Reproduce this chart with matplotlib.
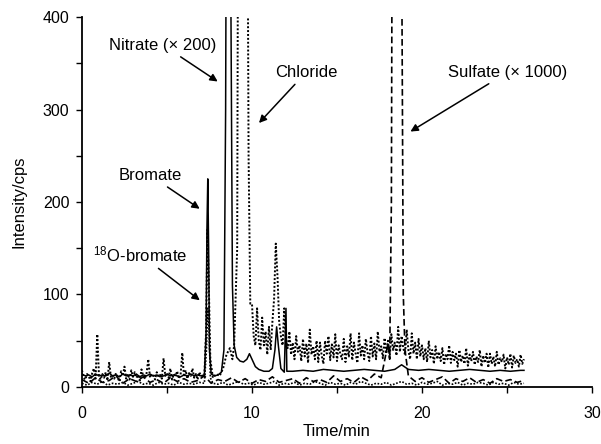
import numpy as np
import matplotlib
matplotlib.use("Agg")
import matplotlib.pyplot as plt

plt.rcParams['font.family'] = ['Liberation Sans', 'DejaVu Sans']
plt.rcParams['mathtext.fontset'] = 'custom'
plt.rcParams['mathtext.rm'] = 'Liberation Sans'

# ---------------- data ----------------
# Solid trace: bromate / nitrate
solid_t1 = np.round(np.arange(0.0, 7.01, 0.2), 2)
solid_v1 = [14, 12, 13, 11, 14, 12, 13, 12, 15, 12, 13, 11, 14, 12, 13, 12, 14, 11,
            13, 12, 14, 12, 13, 11, 12, 14, 12, 13, 12, 11, 13, 12, 14, 12, 13, 12]
solid_t2 = [7.2, 7.3, 7.35, 7.4, 7.45, 7.5, 7.6, 7.8, 8.0, 8.2, 8.35, 8.45, 8.55, 8.65,
            8.75, 8.85, 8.95, 9.1, 9.3, 9.5, 9.7, 9.85, 10.0, 10.2, 10.4, 10.7, 11.0,
            11.2, 11.35, 11.45, 11.55, 11.7, 11.9, 12.0, 12.05]
solid_v2 = [13, 60, 170, 225, 150, 40, 14, 12, 13, 16, 40, 300, 900, 900,
            450, 110, 45, 32, 28, 27, 30, 36, 30, 22, 19, 17, 17,
            20, 40, 65, 45, 20, 16, 85, 17]
solid_t3 = [12.4, 13.0, 13.6, 14.2, 14.8, 15.4, 16.0, 16.6, 17.2, 17.8, 18.4, 18.8,
            19.2, 19.8, 20.4, 21.0, 21.6, 22.2, 22.8, 23.4, 24.0, 24.6, 25.2, 25.8, 26.0]
solid_v3 = [17, 18, 17, 19, 18, 17, 18, 19, 18, 17, 19, 24,
            19, 18, 19, 18, 17, 18, 19, 18, 17, 18, 17, 18, 18]

# Dotted trace: chloride
dot_t1 = np.round(np.arange(0.0, 7.01, 0.1), 2)
dot_v1 = [18, 10, 8, 14, 12, 6, 15, 20, 9, 57,
          12, 8, 14, 10, 16, 7, 27, 11, 13, 9,
          15, 10, 6, 17, 12, 22, 9, 14, 8, 18,
          11, 16, 10, 13, 7, 19, 12, 9, 15, 30,
          10, 14, 12, 8, 16, 11, 13, 9, 31, 12,
          15, 10, 20, 8, 14, 12, 17, 9, 13, 37,
          11, 18, 9, 15, 12, 20, 10, 14, 8, 16,
          12]
dot_t2 = [7.2, 7.3, 7.38, 7.45, 7.55, 7.7, 7.9, 8.1, 8.3, 8.5, 8.7, 8.85, 8.95,
          9.13, 9.23, 9.45, 9.7, 9.8, 9.9]
dot_v2 = [12, 60, 170, 120, 30, 10, 14, 12, 20, 35, 42, 30, 45,
          150, 900, 900, 700, 250, 90]
dot_t3 = np.round(np.arange(10.0, 26.01, 0.1), 2)
dot_v3 = [90, 55, 45, 85, 50, 40, 75, 45, 60, 35,
          65, 40, 70, 95, 155, 120, 70, 55, 45, 85,
          50, 42, 60, 35, 48, 30, 55, 38, 45, 28,
          52, 33, 47, 26, 62, 35, 44, 30, 50, 27,
          48, 34, 25, 50, 36, 55, 29, 46, 32, 57,
          28, 45, 35, 30, 52, 27, 44, 33, 58, 29,
          48, 36, 26, 58, 34, 45, 30, 52, 37, 28,
          55, 33, 47, 30, 60, 38, 44, 31, 53, 36,
          50, 32, 57, 40, 48, 34, 65, 38, 55, 42,
          35, 62, 40, 30, 58, 36, 48, 30, 52, 33,
          45, 30, 42, 27, 50, 32, 40, 25, 44, 30,
          38, 28, 42, 24, 36, 30, 45, 26, 38, 29,
          36, 22, 40, 27, 34, 25, 42, 23, 35, 28,
          38, 24, 33, 27, 40, 22, 34, 26, 36, 21,
          36, 25, 33, 22, 38, 24, 31, 27, 35, 20,
          32, 24, 36, 21, 34, 26, 30, 22, 35, 25,
          30]

# Dashed trace: sulfate
dash_t1 = np.round(np.arange(0.0, 18.01, 0.4), 2)
dash_v1 = [8, 4, 10, 5, 7, 12, 4, 9, 6, 11, 5, 8, 4, 10, 6, 9, 5, 7, 12, 4,
           8, 6, 10, 5, 9, 4, 8, 6, 11, 5, 7, 9, 4, 10, 6, 8, 5, 12, 6, 9,
           5, 11, 7, 14, 10, 47]
dash_t2 = [18.1, 18.2, 18.3, 18.7, 18.8, 18.9, 19.0]
dash_v2 = [30, 200, 900, 900, 500, 100, 40]
dash_t3 = np.round(np.arange(19.2, 26.01, 0.4), 2)
dash_v3 = [12, 6, 10, 5, 8, 11, 4, 9, 6, 10, 5, 8, 4, 9, 6, 8, 5, 7]

# Fine dotted trace: 18O-bromate
o18_t1 = np.round(np.arange(0.0, 7.21, 0.3), 2)
o18_v1 = [4, 2, 5, 3, 6, 2, 4, 3, 5, 2, 4, 6, 3, 4, 2, 5, 3, 4, 2, 5, 3, 4, 3, 5, 4]
o18_t2 = [7.32, 7.4, 7.48, 7.55, 7.7]
o18_v2 = [40, 85, 60, 10, 4]
o18_t3 = np.round(np.arange(8.0, 26.01, 0.3), 2)
o18_v3 = [3, 5, 2, 4, 6, 3, 4, 2, 5, 3, 4, 6, 2, 4, 3, 5, 2, 4, 3, 6, 4, 2, 5, 3,
          4, 2, 5, 3, 6, 4, 2, 4, 3, 5, 2, 4, 6, 3, 4, 2, 5, 3, 4, 6, 2, 4, 3, 5,
          2, 4, 3, 5, 4, 2, 5, 3, 4, 2, 5, 3, 4]

x_ticks = [0, 10, 20, 30]
y_ticks = [0, 100, 200, 300, 400]

# ---------------- figure ----------------
fig = plt.figure(figsize=(6.01, 4.44), dpi=100)
ax = fig.add_axes([0.1364, 0.1284, 0.8486, 0.8333])

def cat(*parts):
    return np.concatenate([np.asarray(p, dtype=float) for p in parts])

ax.plot(cat(o18_t1, o18_t2, o18_t3), cat(o18_v1, o18_v2, o18_v3),
        color='black', lw=1.2, ls=(0, (1, 1)))
ax.plot(cat(dash_t1, dash_t2, dash_t3), cat(dash_v1, dash_v2, dash_v3),
        color='black', lw=1.2, ls=(0, (4, 2)))
ax.plot(cat(dot_t1, dot_t2, dot_t3), cat(dot_v1, dot_v2, dot_v3),
        color='black', lw=1.4, ls=(0, (1, 1)))
ax.plot(cat(solid_t1, solid_t2, solid_t3), cat(solid_v1, solid_v2, solid_v3),
        color='black', lw=1.1)

ax.set_xlim(0, 30)
ax.set_ylim(0, 400)
ax.set_xticks(x_ticks)
ax.set_xticks([5, 15, 25], minor=True)
ax.set_yticks(y_ticks)
ax.set_yticks([50, 150, 250, 350], minor=True)
ax.tick_params(axis='both', which='both', direction='out', length=4, width=1,
               labelsize=11.5)
ax.tick_params(axis='x', pad=10)
ax.tick_params(axis='y', pad=5)
ax.spines['top'].set_visible(False)
ax.spines['right'].set_visible(False)
ax.spines['left'].set_linewidth(1.3)
ax.spines['bottom'].set_linewidth(1.3)
ax.set_xlabel('Time/min', fontsize=12, labelpad=2)
ax.set_ylabel('Intensity/cps', fontsize=12, labelpad=12)

arrow = dict(arrowstyle='-|>', color='black', lw=1.1, mutation_scale=11)
fs = 12
ax.annotate('Nitrate (× 200)', xy=(8.12, 328.6), xytext=(4.76, 369.7),
            ha='center', va='center', fontsize=fs, arrowprops=arrow)
ax.annotate('Chloride', xy=(10.3, 283.2), xytext=(13.2, 340.5),
            ha='center', va='center', fontsize=fs, arrowprops=arrow)
ax.annotate('Sulfate (× 1000)', xy=(19.18, 274.6), xytext=(25.06, 340.5),
            ha='center', va='center', fontsize=fs, arrowprops=arrow)
ax.annotate('Bromate', xy=(7.06, 191), xytext=(4.0, 229),
            ha='center', va='center', fontsize=fs, arrowprops=arrow)
ax.annotate(r'$\mathregular{^{18}}$O-bromate', xy=(7.06, 91.9), xytext=(3.4, 143.8),
            ha='center', va='center', fontsize=fs, arrowprops=arrow)

fig.savefig('out.png', dpi=100)
